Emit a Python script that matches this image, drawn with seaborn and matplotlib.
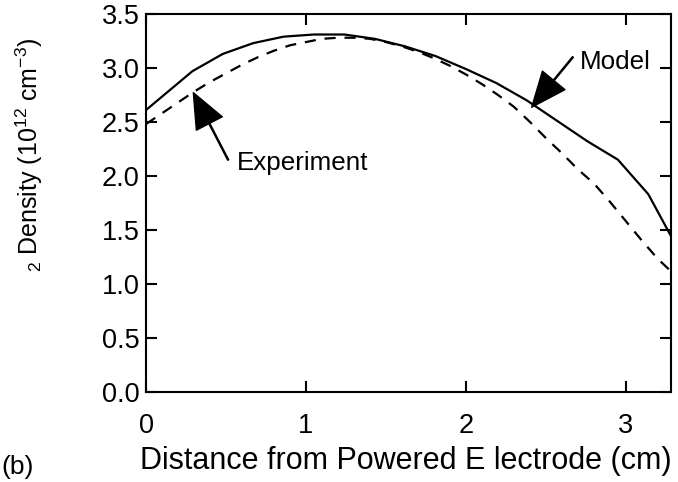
import matplotlib
matplotlib.use("Agg")
import matplotlib.pyplot as plt
import seaborn as sns
import pandas as pd

# Data
model_x = [0.0, 0.29, 0.48, 0.67, 0.86, 1.05, 1.24, 1.43, 1.62, 1.81, 2.00,
           2.19, 2.38, 2.57, 2.76, 2.95, 3.14, 3.33]
model_y = [2.61, 2.97, 3.13, 3.23, 3.29, 3.31, 3.31, 3.27, 3.20, 3.11, 2.99,
           2.86, 2.70, 2.51, 2.32, 2.15, 1.83, 1.31]

exp_x = [0.0, 0.1, 0.2, 0.3, 0.4, 0.5, 0.6, 0.7, 0.8, 0.9, 1.0, 1.1, 1.2,
         1.3, 1.4, 1.5, 1.6, 1.7, 1.8, 1.9, 2.0, 2.1, 2.2, 2.3, 2.4, 2.5,
         2.6, 2.7, 2.8, 2.9, 3.0, 3.1, 3.2, 3.3]
exp_y = [2.48, 2.58, 2.68, 2.78, 2.87, 2.95, 3.03, 3.10, 3.16, 3.21, 3.24,
         3.27, 3.28, 3.28, 3.27, 3.24, 3.20, 3.15, 3.09, 3.02, 2.94, 2.85,
         2.75, 2.64, 2.50, 2.35, 2.21, 2.06, 1.93, 1.76, 1.58, 1.40, 1.23, 1.09]

x_ticks = [0, 1, 2, 3]
y_ticks = [0.0, 0.5, 1.0, 1.5, 2.0, 2.5, 3.0, 3.5]

sns.set_style("ticks")
plt.rcParams["font.family"] = ["Liberation Sans", "DejaVu Sans"]
plt.rcParams["mathtext.fontset"] = "custom"
plt.rcParams["mathtext.rm"] = "Liberation Sans"
plt.rcParams["mathtext.it"] = "Liberation Sans:italic"
plt.rcParams["mathtext.bf"] = "Liberation Sans:bold"
for k in ["text.color", "axes.labelcolor", "xtick.color", "ytick.color", "axes.edgecolor"]:
    plt.rcParams[k] = "black"

fig = plt.figure(figsize=(6.78, 4.82), dpi=100)
ax = fig.add_axes([146 / 678, 1 - 391.7 / 482, (670.7 - 146) / 678, (391.7 - 14) / 482])

df_model = pd.DataFrame({"x": model_x, "y": model_y})
df_exp = pd.DataFrame({"x": exp_x, "y": exp_y})

sns.lineplot(data=df_model, x="x", y="y", ax=ax, color="black", lw=1.6,
             estimator=None, sort=False)
sns.lineplot(data=df_exp, x="x", y="y", ax=ax, color="black", lw=1.6,
             estimator=None, sort=False, linestyle=(0, (5, 4)))

ax.set_xlim(0, 3.28)
ax.set_ylim(0, 3.5)
ax.set_xticks(x_ticks)
ax.set_xticklabels([str(t) for t in x_ticks])
ax.set_yticks(y_ticks)
ax.set_yticklabels([f"{t:.1f}" for t in y_ticks])

for s in ax.spines.values():
    s.set_linewidth(1.5)
    s.set_color("black")

ax.tick_params(axis="both", direction="in", length=8, width=1.5,
               top=True, right=True, labelsize=19.5, colors="black")
ax.tick_params(axis="x", pad=15.5)
ax.tick_params(axis="y", pad=4.5)

ax.set_xlabel("Distance from Powered E lectrode (cm)", fontsize=22)
ax.xaxis.set_label_coords(0.4949, -0.183)
ax.xaxis.label.set_va("center")
ax.set_ylabel("$_{2}$ Density (10$^{12}$ cm$^{-3}$)", fontsize=18)
ax.yaxis.label.set_va("center")
ax.yaxis.set_label_coords(-0.223, 0.627)

arrow = dict(facecolor="black", edgecolor="black", width=0.8,
             headwidth=21, headlength=25, shrink=0)
ax.annotate("", xy=(2.411, 2.636), xytext=(2.669, 3.102), arrowprops=arrow)
ax.annotate("", xy=(0.296, 2.771), xytext=(0.514, 2.147), arrowprops=arrow)
ax.text(2.7125, 3.058, "Model", fontsize=18.7, ha="left", va="center")
ax.text(0.567, 2.117, "Experiment", fontsize=18.7, ha="left", va="center")

fig.text(0.002, 1 - 455 / 482, "(b)", fontsize=19, ha="left", va="top")

fig.savefig("out.png", dpi=100)
